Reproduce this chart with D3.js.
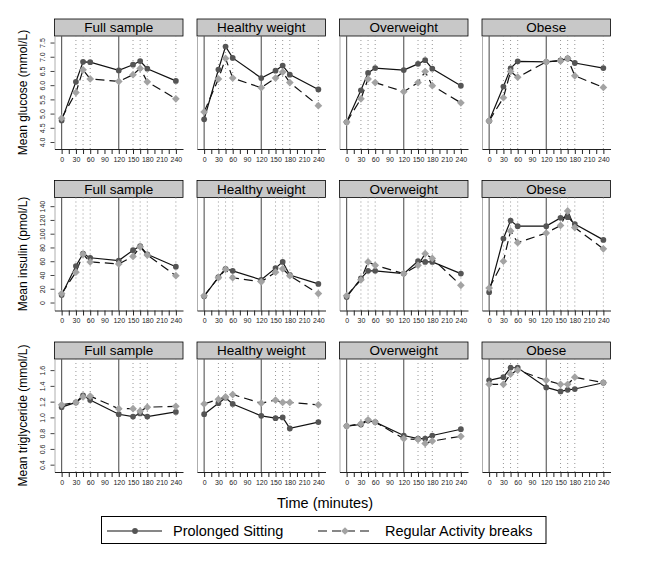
<!DOCTYPE html>
<html>
<head>
<meta charset="utf-8">
<script src="https://cdn.jsdelivr.net/npm/d3@7"></script>
<style>
  body { margin: 0; background: #fff; }
  text { font-family: "Liberation Sans", Arial, sans-serif; }
</style>
</head>
<body>
<div id="plt"></div>
<script>
// time points (minutes)
const times = [0, 30, 45, 60, 120, 150, 165, 180, 240];
const groups = ["Full sample", "Healthy weight", "Overweight", "Obese"];
const solidLines = [0, 120];
const dottedLines = [30, 45, 60, 150, 165, 180, 240];
const xTicks = [0, 15, 30, 45, 60, 75, 90, 105, 120, 135, 150, 165, 180, 195, 210, 225, 240];

// glucose (mmol/L) - prolonged sitting / regular activity breaks
const glucosePS = [
  [4.76, 6.12, 6.82, 6.81, 6.52, 6.72, 6.85, 6.58, 6.15],
  [4.80, 6.55, 7.36, 6.96, 6.25, 6.51, 6.69, 6.37, 5.85],
  [4.70, 5.82, 6.43, 6.60, 6.53, 6.75, 6.88, 6.58, 5.98],
  [4.74, 5.95, 6.59, 6.84, 6.82, 6.87, 6.94, 6.78, 6.60]
];
const glucoseRAB = [
  [4.84, 5.74, 6.54, 6.22, 6.13, 6.37, 6.59, 6.12, 5.52],
  [5.06, 6.22, 6.94, 6.25, 5.91, 6.25, 6.46, 6.09, 5.28],
  [4.70, 5.52, 6.22, 6.09, 5.77, 6.09, 6.48, 5.98, 5.38],
  [4.74, 5.56, 6.48, 6.28, 6.82, 6.85, 6.94, 6.33, 5.92]
];
// insulin (pmol/L)
const insulinPS = [
  [11, 53, 71, 65, 61, 76, 82, 70, 52],
  [9, 37, 49, 46, 33, 50, 59, 40, 27],
  [8, 35, 46, 46, 42, 60, 59, 59, 42],
  [15, 93, 119, 111, 111, 123, 124, 114, 91]
];
const insulinRAB = [
  [13, 44, 70, 59, 56, 67, 81, 69, 39],
  [10, 36, 48, 36, 30, 44, 49, 39, 13],
  [10, 33, 59, 54, 42, 54, 71, 64, 25],
  [21, 60, 104, 87, 101, 112, 133, 109, 78]
];
// triglyceride (mmol/L)
const trigPS = [
  [1.13, 1.19, 1.28, 1.22, 1.04, 1.01, 1.05, 1.01, 1.07],
  [1.04, 1.18, 1.25, 1.17, 1.02, 0.99, 1.00, 0.86, 0.94],
  [0.89, 0.91, 0.96, 0.94, 0.77, 0.73, 0.73, 0.77, 0.85],
  [1.47, 1.51, 1.63, 1.63, 1.38, 1.33, 1.35, 1.36, 1.44]
];
const trigRAB = [
  [1.16, 1.19, 1.26, 1.27, 1.11, 1.11, 1.08, 1.13, 1.14],
  [1.17, 1.23, 1.26, 1.29, 1.18, 1.22, 1.19, 1.19, 1.16],
  [0.89, 0.92, 0.97, 0.94, 0.73, 0.72, 0.67, 0.70, 0.76],
  [1.42, 1.42, 1.55, 1.60, 1.47, 1.42, 1.42, 1.51, 1.44]
];

const glucoseTicks = [4.0, 4.5, 5.0, 5.5, 6.0, 6.5, 7.0, 7.5];
const insulinTicks = [0, 20, 40, 60, 80, 100, 120, 140];
const trigTicks = [0.4, 0.6, 0.8, 1.0, 1.2, 1.4, 1.6];

const rows = [
  { title: "Mean glucose (mmol/L)", ps: glucosePS, rab: glucoseRAB, ticks: glucoseTicks, domain: [3.754, 7.73], fmt: d3.format(".1f") },
  { title: "Mean insulin (pmol/L)", ps: insulinPS, rab: insulinRAB, ticks: insulinTicks, domain: [-11.6, 152.6], fmt: d3.format("d") },
  { title: "Mean triglyceride (mmol/L)", ps: trigPS, rab: trigRAB, ticks: trigTicks, domain: [0.307, 1.741], fmt: d3.format(".1f") }
];

const W = 661, H = 569;
const svg = d3.select("#plt").append("svg")
  .attr("width", W).attr("height", H);

const panelLeft = 54.5, panelW = 128.5, panelStep = 142.5;
const rowTop = 19, rowStep = 161.5, stripH = 17, plotH = 113;

const x = d3.scaleLinear().domain([-15, 255]).range([0, panelW]);

const psColor = "#555555", rabColor = "#a3a3a3";
const circle = d3.symbol().type(d3.symbolCircle).size(26);
const diamond = d3.symbol().type(d3.symbolSquare).size(30);

rows.forEach((row, r) => {
  const top = rowTop + r * rowStep;
  const plotTop = top + stripH;
  const y = d3.scaleLinear().domain(row.domain).range([plotTop + plotH, plotTop]);

  // y axis title
  svg.append("text")
    .attr("transform", `translate(23,${plotTop + plotH / 2}) rotate(-90)`)
    .attr("text-anchor", "middle")
    .attr("dy", "0.35em")
    .attr("font-size", 12)
    .text(row.title);

  groups.forEach((g, c) => {
    const gx = panelLeft + c * panelStep;
    const p = svg.append("g").attr("transform", `translate(${gx},0)`);

    // strip
    p.append("rect")
      .attr("x", 0).attr("y", top)
      .attr("width", panelW).attr("height", stripH)
      .attr("fill", "#c8c8c8").attr("stroke", "#000").attr("stroke-width", 0.8);
    p.append("text")
      .attr("x", panelW / 2).attr("y", top + stripH / 2)
      .attr("dy", "0.36em")
      .attr("text-anchor", "middle")
      .attr("font-size", 13.5)
      .text(g);

    // reference lines
    p.selectAll(".dot-line").data(dottedLines).enter().append("line")
      .attr("x1", d => x(d)).attr("x2", d => x(d))
      .attr("y1", plotTop).attr("y2", plotTop + plotH)
      .attr("stroke", "#8a8a8a").attr("stroke-width", 0.9)
      .attr("stroke-dasharray", "1,3");
    p.selectAll(".solid-line").data(solidLines).enter().append("line")
      .attr("x1", d => x(d)).attr("x2", d => x(d))
      .attr("y1", plotTop).attr("y2", plotTop + plotH)
      .attr("stroke", "#555").attr("stroke-width", 1.1);

    // y axis (first column shows labels)
    const yAxis = d3.axisLeft(y).tickValues(row.ticks).tickSize(4).tickSizeOuter(0)
      .tickFormat(c === 0 ? row.fmt : "");
    const ya = p.append("g").call(yAxis);
    ya.select(".domain").attr("stroke", "#999").attr("stroke-width", 0.8);
    ya.selectAll(".tick line").attr("stroke", c === 0 ? "#444" : "none");
    ya.selectAll(".tick text")
      .attr("font-size", 7).attr("fill", "#222")
      .attr("transform", "rotate(-90)")
      .attr("x", 0).attr("y", -9.5).attr("dy", 0)
      .attr("text-anchor", "middle");

    // x axis
    const xAxis = d3.axisBottom(x).tickValues(xTicks).tickSize(5).tickPadding(3).tickSizeOuter(0)
      .tickFormat(d => d % 30 === 0 ? d : "");
    const xa = p.append("g").attr("transform", `translate(0,${plotTop + plotH})`).call(xAxis);
    xa.select(".domain").attr("stroke", "#222").attr("stroke-width", 1);
    xa.selectAll(".tick line").attr("stroke", "#222");
    xa.selectAll(".tick text").attr("font-size", 7).attr("fill", "#222");

    const line = d3.line().x((d, i) => x(times[i])).y(d => y(d));
    p.append("path").datum(row.ps[c])
      .attr("d", line).attr("fill", "none")
      .attr("stroke", "#111").attr("stroke-width", 1.2);
    p.append("path").datum(row.rab[c])
      .attr("d", line).attr("fill", "none")
      .attr("stroke", "#111").attr("stroke-width", 1.2)
      .attr("stroke-dasharray", "9,5");

    p.selectAll(".ps").data(row.ps[c]).enter().append("path")
      .attr("d", circle)
      .attr("transform", (d, i) => `translate(${x(times[i])},${y(d)})`)
      .attr("fill", psColor);
    p.selectAll(".rab").data(row.rab[c]).enter().append("path")
      .attr("d", diamond)
      .attr("transform", (d, i) => `translate(${x(times[i])},${y(d)}) rotate(45)`)
      .attr("fill", rabColor);
  });
});

// x axis title
svg.append("text")
  .attr("x", 325).attr("y", 503)
  .attr("dy", "0.35em")
  .attr("text-anchor", "middle")
  .attr("font-size", 14.5)
  .text("Time (minutes)");

// legend
const lg = svg.append("g");
lg.append("rect")
  .attr("x", 101.5).attr("y", 516.5).attr("width", 444.5).attr("height", 27)
  .attr("fill", "#fff").attr("stroke", "#000").attr("stroke-width", 1);
const ly = 531;
lg.append("line").attr("x1", 107).attr("x2", 162).attr("y1", ly).attr("y2", ly)
  .attr("stroke", "#111").attr("stroke-width", 1.2);
lg.append("path").attr("d", circle).attr("transform", `translate(135,${ly})`).attr("fill", psColor);
lg.append("text").attr("x", 173).attr("y", ly).attr("dy", "0.35em")
  .attr("font-size", 14.5).text("Prolonged Sitting");
lg.append("line").attr("x1", 318).attr("x2", 373).attr("y1", ly).attr("y2", ly)
  .attr("stroke", "#111").attr("stroke-width", 1.2).attr("stroke-dasharray", "9,5");
lg.append("path").attr("d", diamond).attr("transform", `translate(345,${ly}) rotate(45)`).attr("fill", rabColor);
lg.append("text").attr("x", 385).attr("y", ly).attr("dy", "0.35em")
  .attr("font-size", 14.5).text("Regular Activity breaks");
</script>
</body>
</html>
